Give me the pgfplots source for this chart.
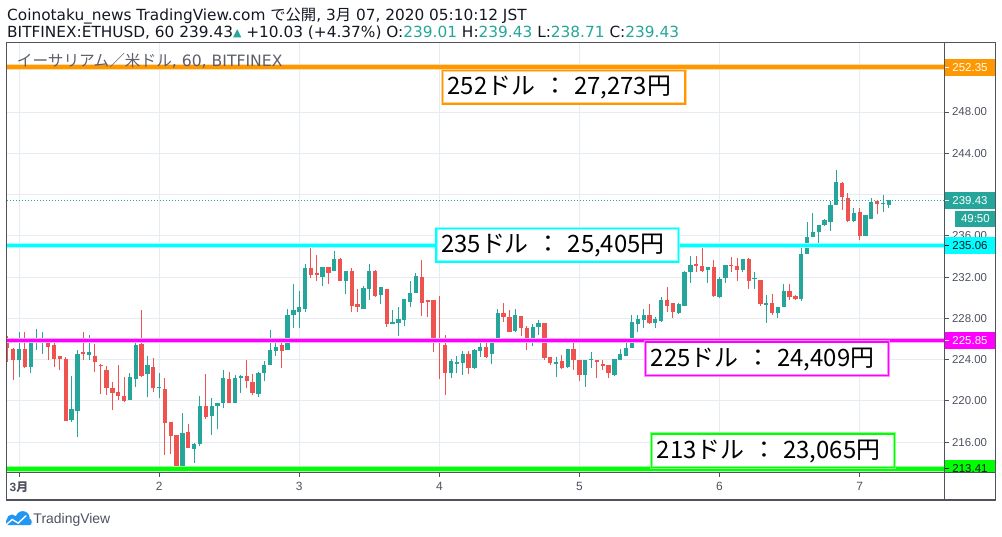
\documentclass[border=0pt]{standalone}
\usepackage{pgfplots}
\pgfplotsset{compat=1.18}
\usepackage{pgfplotstable}
\usepackage{fontspec}
\setmainfont{DejaVu Sans}
\newfontfamily\lib{Liberation Sans}
\newfontfamily\cjk{Noto Sans CJK JP}
\definecolor{tvgreen}{HTML}{26A69A}
\definecolor{tvred}{HTML}{EF5350}
\definecolor{gridc}{HTML}{E6EDF2}
\definecolor{framec}{HTML}{50535E}
\definecolor{txt}{HTML}{131722}
\definecolor{lbl}{HTML}{4C525E}
\definecolor{wm}{HTML}{5D606B}
\definecolor{lvor}{HTML}{FF9800}
\definecolor{lvcy}{HTML}{00FFFF}
\definecolor{lvmg}{HTML}{FF00FF}
\definecolor{lvgr}{HTML}{00FF00}
\definecolor{tvblue}{HTML}{2196F3}

\pgfplotstableread{
h O H L C
0 223.96 226.64 222.3 225.0
2 223.3 225.9 222.7 225.7
3 225.7 226.93 224.93 225.9
4 225.9 226.64 224.6 226.0
9 218.2 222.4 218.0 219.2
10 219.0 224.9 216.5 224.6
12 224.45 226.35 224.0 224.7
19 220.06 222.7 220.06 222.3
20 222.1 225.6 221.4 225.4
22 222.6 224.4 220.35 223.45
24 221.25 222.7 220.25 221.35
28 213.3 218.8 213.1 216.9
30 215.35 215.9 214.0 215.8
31 215.8 220.5 215.6 219.5
33 218.5 220.25 216.7 219.5
34 219.5 219.8 217.25 219.8
35 219.8 222.97 219.3 222.2
37 219.77 222.5 219.77 222.2
38 222.2 222.5 220.8 222.4
41 220.7 222.77 220.35 222.7
42 222.7 223.85 221.9 223.45
43 223.45 226.9 223.45 224.9
44 224.8 226.06 224.4 225.2
46 224.9 228.87 224.9 228.3
47 228.3 231.38 227.1 228.77
48 228.67 230.7 227.1 229.06
49 228.87 233.3 228.67 232.84
52 232.06 233.03 231.19 233.03
54 232.55 234.5 232.55 233.8
56 231.67 232.55 230.4 232.55
59 228.87 231.19 228.87 230.99
60 230.9 233.3 229.74 232.55
62 230.3 231.09 229.35 231.09
64 227.42 228.77 227.42 227.7
65 227.6 229.06 226.25 227.9
66 227.8 229.93 227.3 229.93
67 229.6 231.67 229.06 230.5
68 230.5 232.45 230.5 232.16
74 222.67 224.1 222.2 223.83
75 223.6 224.4 222.67 223.75
76 223.7 224.8 222.5 224.6
78 223.15 225.0 223.06 224.9
79 224.8 225.6 224.3 225.2
81 224.6 226.06 223.54 226.06
82 225.96 228.96 225.96 228.48
85 226.83 228.87 226.64 228.3
88 225.96 227.42 225.3 227.2
89 227.2 227.8 226.35 227.6
92 223.6 224.3 222.3 223.74
94 223.25 225.0 223.2 224.99
97 222.5 224.0 221.4 224.0
98 224.0 224.7 223.15 224.1
102 222.5 224.1 222.4 224.1
103 224.0 225.0 224.0 224.6
104 224.4 225.7 224.4 225.1
105 225.1 228.3 225.1 227.7
106 227.5 228.3 226.73 227.9
107 227.8 228.87 227.12 228.3
109 227.54 228.15 227.1 227.9
110 227.74 230.06 227.67 229.83
113 228.57 229.5 228.4 229.38
114 229.25 232.6 229.2 232.54
115 232.51 234.09 231.44 233.22
118 232.67 233.0 231.44 232.99
120 230.09 232.0 230.0 231.86
121 231.9 233.19 231.44 233.19
124 232.73 233.77 232.5 233.77
126 231.86 232.5 230.9 231.95
128 229.3 230.3 227.54 229.45
130 228.51 229.15 228.0 229.15
131 229.15 231.38 229.15 230.7
134 229.86 234.96 229.73 234.28
135 234.22 237.32 234.22 235.93
136 235.86 238.22 235.86 236.41
137 236.41 237.09 234.86 237.09
138 237.03 237.6 237.0 237.57
139 237.32 239.41 236.5 239.03
140 239.03 242.41 239.03 241.25
143 237.41 238.67 237.38 238.25
145 236.03 238.06 236.0 238.06
146 237.67 239.7 237.67 239.32
148 239.06 240.0 238.32 239.15
149 239.01 239.43 238.71 239.43
}\greentab

\pgfplotstableread{
h O H L C
-2 226.0 226.3 223.8 225.1
-1 225.0 225.1 222.0 223.96
1 225.0 226.64 223.16 223.3
5 225.9 226.1 223.96 225.22
6 225.4 225.7 223.3 224.03
7 224.4 224.4 223.0 224.1
8 224.1 224.3 218.06 218.06
11 224.7 226.7 224.0 224.55
13 224.4 225.5 222.8 223.8
14 223.5 223.55 220.7 223.35
15 223.05 223.4 220.6 221.25
16 221.3 221.8 219.1 220.8
17 220.9 223.5 220.06 220.45
18 220.45 222.3 219.9 220.0
21 225.5 228.8 222.3 222.45
23 223.25 224.2 220.9 221.25
25 221.2 222.2 214.8 217.9
26 218.0 218.0 214.9 216.6
27 216.7 216.7 213.0 213.2
29 217.0 217.8 215.45 215.45
32 219.48 222.58 218.3 218.48
36 222.1 222.77 219.77 219.77
39 222.4 224.0 221.3 221.9
40 221.8 222.6 220.55 220.8
45 225.4 225.65 223.16 224.8
50 232.84 235.35 231.87 232.25
51 232.45 234.19 231.58 232.16
53 233.03 233.03 231.3 232.45
55 233.8 233.9 231.67 231.67
57 232.55 232.93 228.67 229.16
58 229.35 230.9 228.6 229.06
61 232.55 232.74 230.1 230.22
63 230.9 230.9 227.2 227.42
69 232.06 233.7 228.2 229.45
70 229.74 229.74 228.1 229.55
71 229.74 229.74 224.7 225.87
72 225.87 230.2 222.1 225.6
73 225.4 226.4 220.54 222.67
77 224.6 224.8 222.6 223.15
80 225.2 226.15 224.2 224.3
83 228.48 229.45 227.7 228.1
84 228.1 228.77 226.73 226.73
86 228.2 228.2 226.25 227.12
87 227.12 227.3 224.9 225.96
90 227.6 227.6 224.0 224.2
91 224.3 224.3 223.45 223.64
93 223.83 224.5 223.06 223.15
95 224.99 225.6 222.96 223.93
96 224.0 224.0 221.9 222.5
99 223.93 223.93 222.2 223.77
100 223.54 224.0 222.96 223.4
101 223.45 223.45 222.2 222.67
108 228.38 229.35 227.5 227.54
111 229.83 231.09 228.67 229.25
112 229.54 229.54 228.0 228.6
116 233.28 234.09 232.54 233.09
117 233.12 235.25 232.5 232.6
119 233.0 233.64 230.09 230.15
122 233.22 233.96 232.51 233.06
123 233.12 233.83 231.6 232.73
125 233.8 233.9 230.83 231.6
127 231.7 231.7 229.25 229.35
129 229.45 230.4 228.38 228.54
132 230.7 231.38 229.83 230.06
133 230.15 230.3 229.83 229.86
141 241.15 241.25 238.48 239.74
142 239.7 240.19 237.38 237.48
144 238.35 238.74 235.64 236.03
147 239.41 239.41 238.09 239.06
}\redtab

\begin{document}
\begin{tikzpicture}[x=1bp,y=1bp]
\useasboundingbox (-6.7,-64.7) rectangle (995.3,472.3);
\begin{axis}[at={(0,0)}, anchor=south west, scale only axis,
  width=937.6bp, height=429.6bp,
  xmin=-2.11, xmax=158.5, ymin=213.09, ymax=254.72,
  axis line style={draw=none}, clip mode=individual,
  xtick={0,24,...,144},
  xticklabels={{\bfseries 3{\cjk\bfseries 月}},2,3,4,5,6,7},
  ytick={216,220,...,236,244,248},
  extra y ticks={240}, extra y tick labels={},
  grid=major, major grid style={gridc, line width=1bp},
  tick align=outside, major tick length=4.5bp,
  tick style={framec, line width=1bp},
  xtick pos=bottom, ytick pos=right, yticklabel pos=right,
  yticklabel style={font=\lib\fontsize{11.5}{12}\selectfont, text=lbl, anchor=west, inner sep=0pt, xshift=3bp},
  xticklabel style={font=\lib\fontsize{12}{12}\selectfont, text=lbl, inner sep=0pt, anchor=center, yshift=-10bp},
  /pgf/number format/.cd, fixed, fixed zerofill, precision=2, assume math mode=true]
% wicks
\addplot[tvgreen, line width=1bp, mark=none, quiver={u=0, v=\thisrow{H}-\thisrow{L}}] table[x=h, y=L] {\greentab};
\addplot[tvred, line width=1bp, mark=none, quiver={u=0, v=\thisrow{H}-\thisrow{L}}] table[x=h, y=L] {\redtab};
% bodies
\addplot[tvgreen, line width=4.3bp, mark=none, quiver={u=0, v=\thisrow{C}-\thisrow{O}}] table[x=h, y=O] {\greentab};
\addplot[tvred, line width=4.3bp, mark=none, quiver={u=0, v=\thisrow{C}-\thisrow{O}}] table[x=h, y=O] {\redtab};
% last price
\addplot[tvgreen, line width=0.8bp, dash pattern=on 1.5bp off 1.5bp] coordinates {(-2.11,239.43) (158.5,239.43)};
% level lines
\addplot[lvor!35, line width=5.5bp] coordinates {(-2.11,252.35) (158.5,252.35)};
\addplot[lvor, line width=3.5bp] coordinates {(-2.11,252.35) (158.5,252.35)};
\addplot[lvcy!35, line width=5.5bp] coordinates {(-2.11,235.06) (158.5,235.06)};
\addplot[lvcy, line width=3.5bp] coordinates {(-2.11,235.06) (158.5,235.06)};
\addplot[lvmg!35, line width=5.5bp] coordinates {(-2.11,225.85) (158.5,225.85)};
\addplot[lvmg, line width=3.5bp] coordinates {(-2.11,225.85) (158.5,225.85)};
\addplot[lvgr!35, line width=5.5bp] coordinates {(-2.11,213.41) (158.5,213.41)};
\addplot[lvgr, line width=3.5bp] coordinates {(-2.11,213.41) (158.5,213.41)};
\end{axis}
% right price boxes (drawn over the tick labels)
\tikzset{pbox/.style={inner sep=0pt, minimum width=51bp, minimum height=17.4bp, anchor=west, font=\lib\fontsize{11.5}{12}\selectfont}}
\node[pbox, fill=lvor, text=white] at (937.6,404.9) {252.35};
\node[pbox, fill=tvgreen, text=white] at (937.6,271.6) {239.43};
\node[pbox, fill=tvgreen, text=white, minimum width=40.3bp, minimum height=16.6bp] at (948.3,253.3) {49:50};
\node[pbox, fill=lvcy, text=txt] at (937.6,226.6) {235.06};
\node[pbox, fill=lvmg, text=white] at (937.6,131.6) {225.85};
\begin{scope}
\clip (937.6,0) rectangle (988.6,20);
\node[pbox, fill=lvgr, text=txt] at (937.6,3.3) {213.41};
\end{scope}
\foreach \yy/\cc in {404.9/white, 271.6/white, 226.6/txt, 131.6/white, 3.3/txt}{
  \draw[\cc, line width=1bp] (937.6,\yy) -- (942.1,\yy);
}
% frames
\draw[framec, line width=1.5bp] (0,-27.7) rectangle (988.6,429.6);
\draw[framec, line width=1.5bp] (937.6,-27.7) -- (937.6,429.6);
\draw[framec, line width=1.5bp] (0,0) -- (988.6,0);
% text boxes
\tikzset{tbox/.style={anchor=base west, inner sep=0pt, text=black, font=\cjk\fontsize{24}{24}\selectfont}}
\foreach \xa/\ya/\cl in {435.6/368.3/lvor, 429.3/210.3/lvcy, 639/97/lvmg, 645/5/lvgr}{
  \draw[\cl!45, line width=3bp, fill=white] (\xa,\ya) rectangle ++(242.7,33.3);
  \draw[\cl, line width=1.5bp] (\xa,\ya) rectangle ++(242.7,33.3);
}
\node[tbox] at (440.6,377.5) {252ドル\hspace{8bp}：\hspace{7bp}27,273円};
\node[tbox] at (434.3,219.5) {235ドル\hspace{8bp}：\hspace{7bp}25,405円};
\node[tbox] at (644,106.2) {225ドル\hspace{8bp}：\hspace{7bp}24,409円};
\node[tbox] at (650,14.2) {213ドル\hspace{8bp}：\hspace{7bp}23,065円};
% watermark
\node[anchor=base west, inner sep=0pt, text=wm, font=\fontsize{15.7}{16}\selectfont] at (10,405.6) {{\cjk イーサリアム／米ドル}, 60, BITFINEX};
% titles
\node[anchor=base west, inner sep=0pt, text=txt, font=\fontsize{15.4}{16}\selectfont] at (0.3,451.8) {Coinotaku\_news TradingView.com {\cjk で公開}, 3{\cjk 月} 07, 2020 05:10:12 JST};
\node[anchor=base west, inner sep=0pt, text=txt, font=\fontsize{15.4}{16}\selectfont] at (0.3,435) {BITFINEX:ETHUSD, 60 239.43\raisebox{1bp}{\color{tvgreen}\fontsize{11}{11}\selectfont▲} +10.03 (+4.37\%) O:{\color{tvgreen}239.01} H:{\color{tvgreen}239.43} L:{\color{tvgreen}238.71} C:{\color{tvgreen}239.43}};
% logo
\fill[tvblue] (5.3,-47.5) circle (5.3bp);
\fill[tvblue] (16,-45.8) circle (7bp);
\fill[tvblue, rounded corners=2.5bp] (-0.7,-52.9) rectangle (25,-46.5);
\draw[white, line width=1.4bp] (-0.7,-52.6) -- (5.5,-47.2) -- (11.5,-50.8) -- (19.5,-43.3);
\node[anchor=base west, inner sep=0pt, text=lbl, font=\lib\fontsize{14}{14}\selectfont] at (26.6,-51.3) {TradingView};
\end{tikzpicture}
\end{document}
